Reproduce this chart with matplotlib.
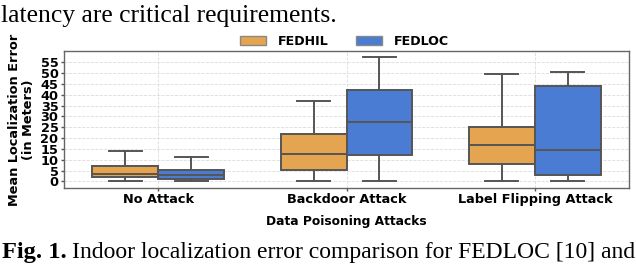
import matplotlib
matplotlib.use("Agg")
import matplotlib.pyplot as plt
from matplotlib.patches import Patch

categories = ["No Attack", "Backdoor Attack", "Label Flipping Attack"]
series = ["FEDHIL", "FEDLOC"]
colors = ["#E5A550", "#4A7CD4"]
# box stats per series: [whislo, q1, med, q3, whishi] per category
fedhil_stats = [
    [0, 2.2, 3.4, 7.1, 14.2],
    [0, 5.1, 12.6, 22.0, 37.3],
    [0, 8.0, 17.0, 25.0, 49.5],
]
fedloc_stats = [
    [0, 1.1, 3.1, 5.1, 11.2],
    [0, 12.0, 27.3, 42.3, 57.5],
    [0, 3.1, 14.3, 44.2, 50.4],
]
yticks = list(range(0, 60, 5))

W, H = 636, 264
fig = plt.figure(figsize=(W / 100, H / 100), dpi=100)
ax = fig.add_axes([64 / W, 1 - 188 / H, (629 - 64) / W, (188 - 51) / H])

edge = "#555555"
width = 0.35
for s_idx, (stats_set, col) in enumerate(zip([fedhil_stats, fedloc_stats], colors)):
    stats = []
    for vals in stats_set:
        lo, q1, med, q3, hi = vals
        stats.append(dict(whislo=lo, q1=q1, med=med, q3=q3, whishi=hi, fliers=[]))
    off = -width / 2 if s_idx == 0 else width / 2
    pos = [i + off for i in range(len(categories))]
    ax.bxp(stats, positions=pos, widths=width, patch_artist=True, showfliers=False,
           boxprops=dict(facecolor=col, edgecolor=edge, linewidth=1.4),
           medianprops=dict(color=edge, linewidth=1.4),
           whiskerprops=dict(color=edge, linewidth=1.4),
           capprops=dict(color=edge, linewidth=1.4),
           manage_ticks=False, zorder=3)

ax.set_xlim(-0.5, 2.5)
ax.set_ylim(-3, 60.2)
ax.set_xticks(range(len(categories)))
ax.set_xticklabels(categories, fontweight="bold", fontsize=9.3)
ax.set_yticks(yticks)
ax.set_yticklabels([str(t) for t in yticks], fontweight="bold", fontsize=9.3)
ax.tick_params(axis="x", length=2.5, width=1, color=edge, pad=1)
ax.tick_params(axis="y", length=2.5, width=1, color=edge, pad=1.5)
ax.grid(True, linestyle="--", color="#dcdcdc", linewidth=0.6, zorder=0)
ax.set_axisbelow(True)
for sp in ax.spines.values():
    sp.set_color("#666666")
    sp.set_linewidth(1.0)

ax.set_xlabel("Data Poisoning Attacks", fontweight="bold", fontsize=8.8)
ax.xaxis.set_label_coords(0.5, (188 - 215) / 137)
ax.set_ylabel("Mean Localization Error\n(in Meters)", fontweight="bold", fontsize=9.3,
              linespacing=1.1)
ax.yaxis.set_label_coords((35 - 64) / 565, 0.5)

handles = [Patch(facecolor=c, edgecolor="#888888", label=s) for s, c in zip(series, colors)]
leg = fig.legend(handles=handles, loc="center", bbox_to_anchor=(344.5 / W, 1 - 41.5 / H), ncol=2,
                 frameon=False, prop=dict(weight="bold", size=9.1), handlelength=2.1,
                 handleheight=0.7, columnspacing=2.1, handletextpad=0.95)

# surrounding paper text, fitted to the reference widths
fig.canvas.draw()
renderer = fig.canvas.get_renderer()


def fit_text(x0, x1, y, s, weight="normal", fs=16):
    t = fig.text(x0 / W, 1 - y / H, s, family="Liberation Serif", fontweight=weight,
                 fontsize=fs, va="baseline", ha="left")
    w = t.get_window_extent(renderer).width
    t.set_fontsize(fs * (x1 - x0) / w)
    return t


fit_text(1, 337, 22, "latency are critical requirements.")
fit_text(2, 67, 258, "Fig. 1.", weight="bold")
fit_text(72, 635, 258, "Indoor localization error comparison for FEDLOC [10] and")

fig.savefig("out.png", dpi=100)
